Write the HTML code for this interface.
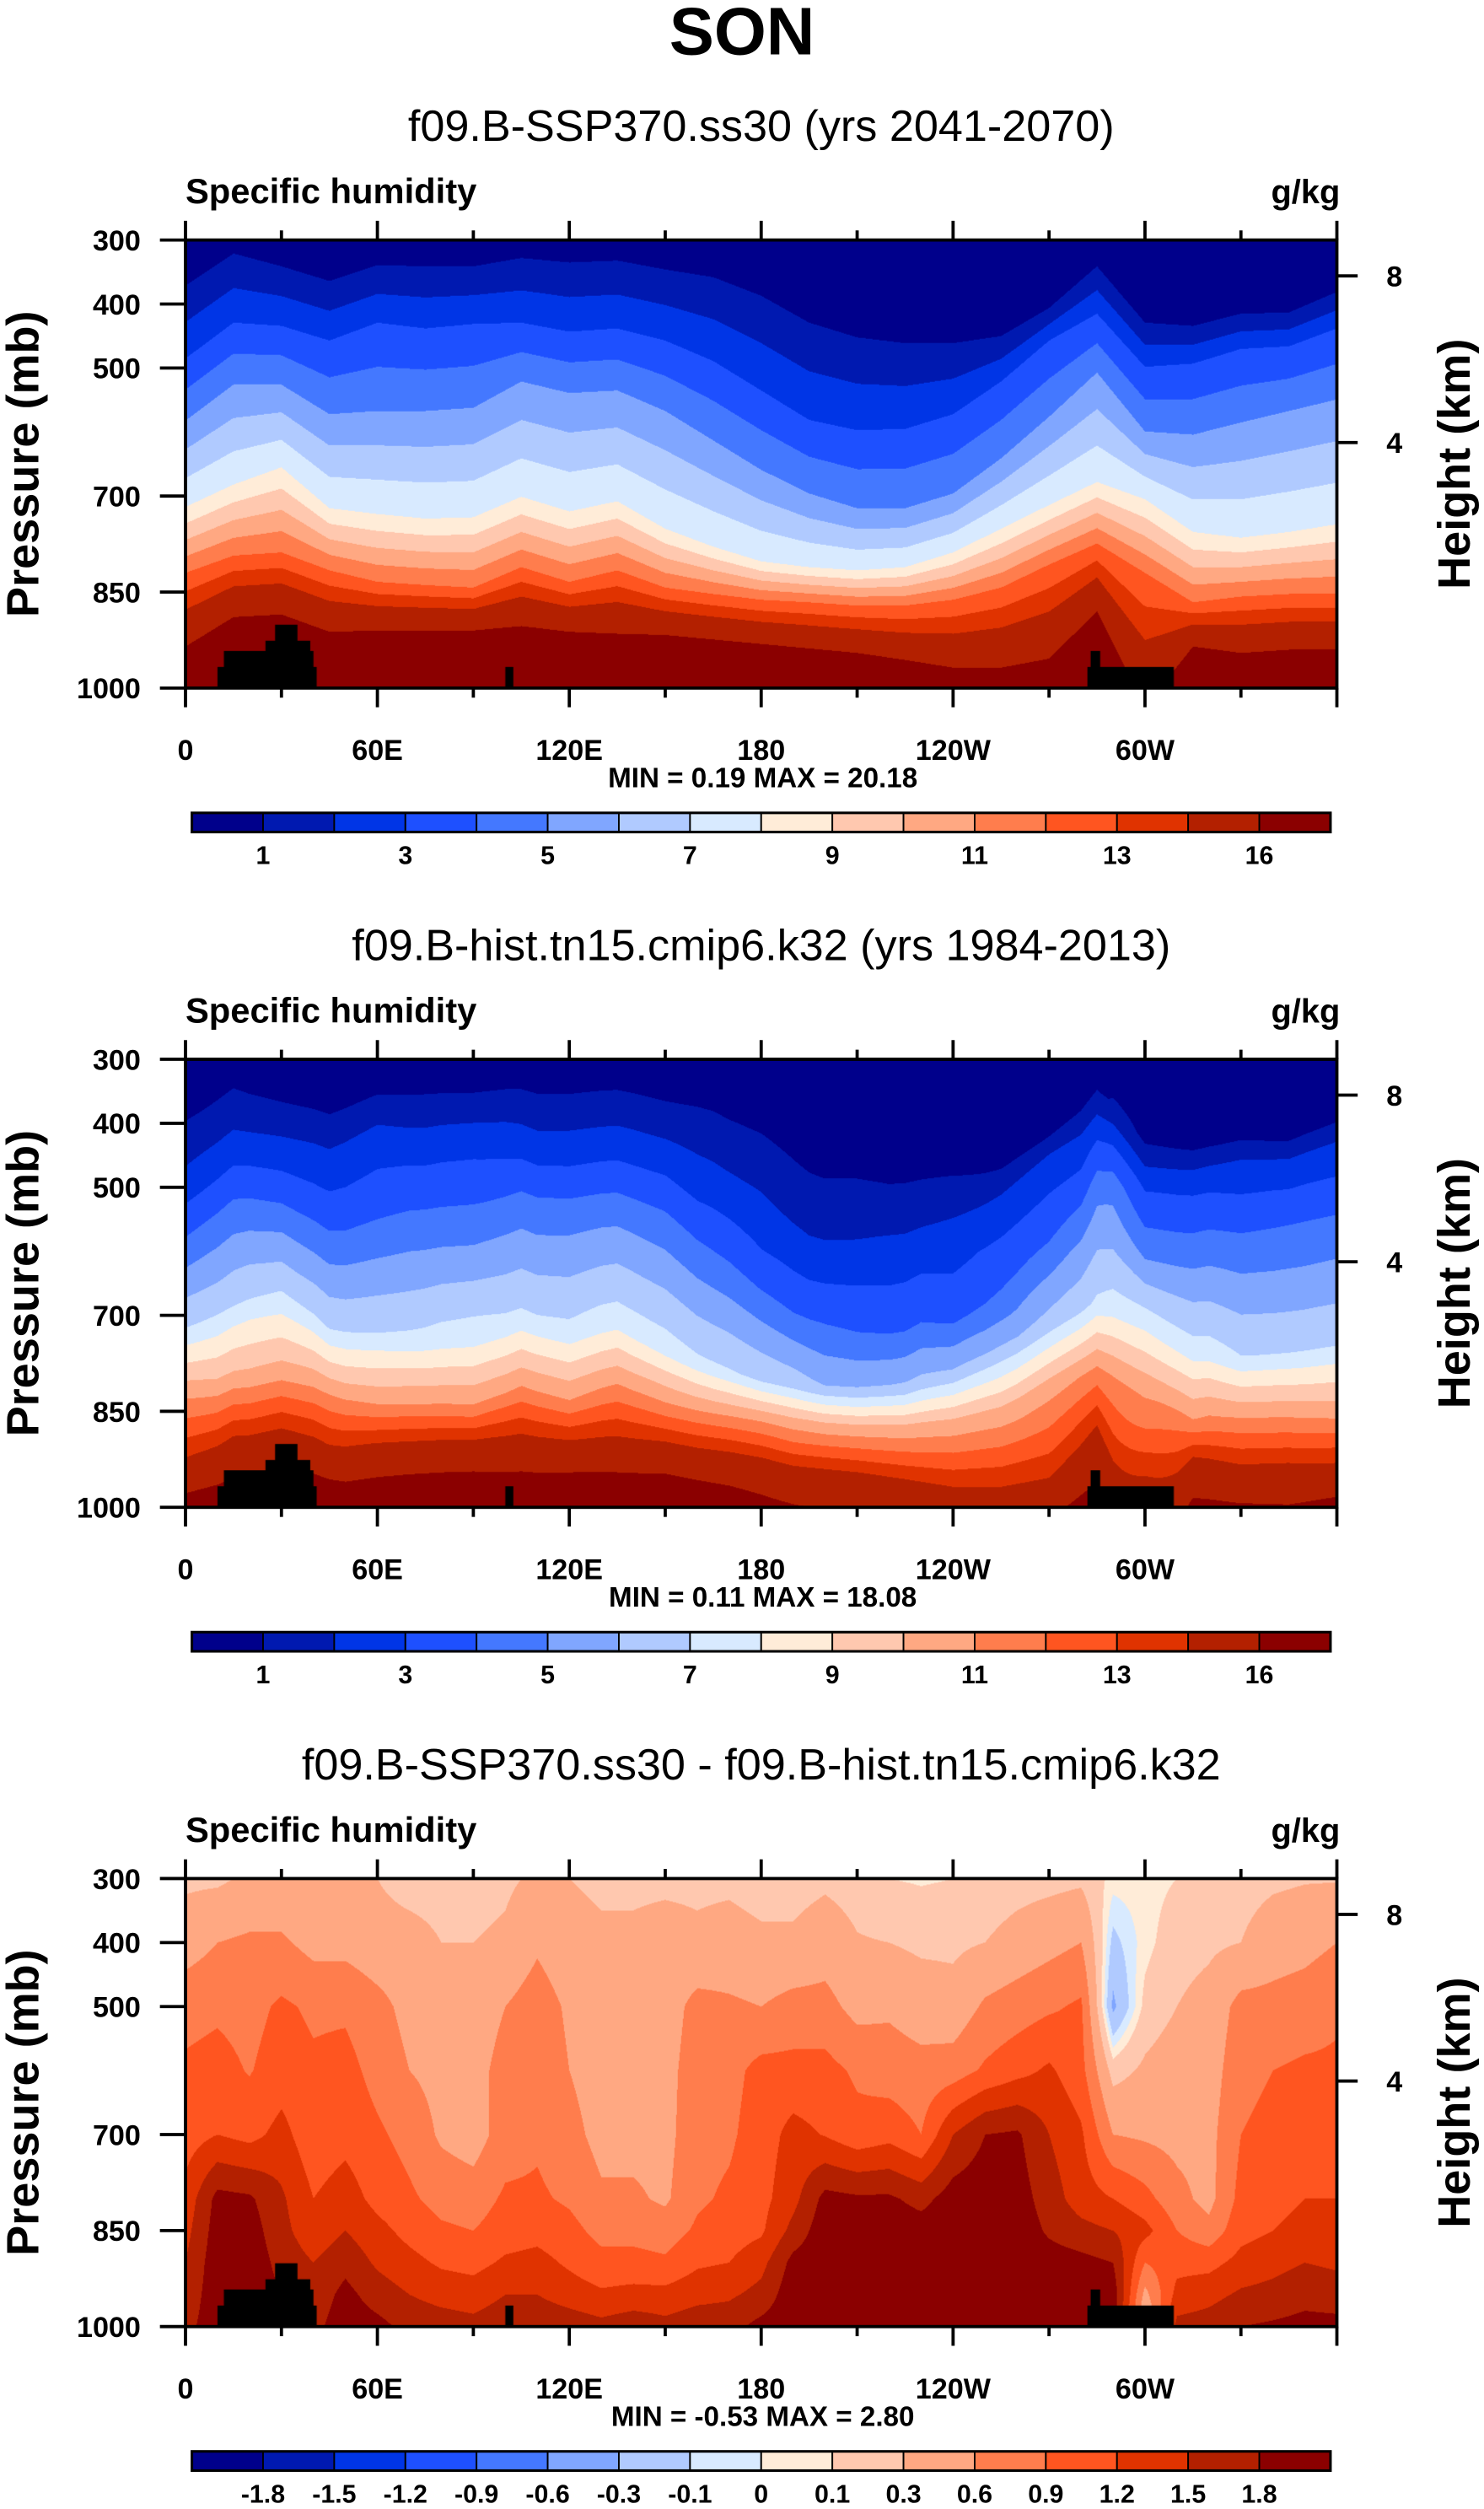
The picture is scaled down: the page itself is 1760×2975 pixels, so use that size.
<!DOCTYPE html>
<html><head><meta charset="utf-8"><style>
html,body{margin:0;padding:0;background:#fff;}
body{width:1760px;height:2975px;overflow:hidden;position:relative;}
#wrap{position:absolute;left:0;top:0;width:928px;height:1568px;transform:scale(1.89655,1.89732);transform-origin:0 0;}
canvas{position:absolute;width:720px;height:280px;}
svg{position:absolute;left:0;top:0;}
text{font-family:"Liberation Sans",Arial,sans-serif;}
</style></head><body>
<div id="wrap">
<canvas id="c1" width="1366" height="531" style="left:116px;top:150px"></canvas>
<canvas id="c2" width="1366" height="531" style="left:116px;top:662px"></canvas>
<canvas id="c3" width="1366" height="531" style="left:116px;top:1174px"></canvas>
<svg id="svg" width="928" height="1568" viewBox="0 0 928 1568">
<text x="464" y="34" text-anchor="middle" font-size="42" font-weight="bold">SON</text>
</svg>
</div>
<script>
// ---- Panel 1 (SSP370) isoline pressures (mb) per longitude, 0..360 step 15 ----
const lons15 = [0,15,30,45,60,75,90,105,120,135,150,165,180,195,210,225,240,255,270,285,300,315,330,345,360];
const iso1  = [371,321,341,364,339,341,341,328,335,332,346,358,387,429,452,461,461,450,406,341,429,434,415,413,381];
const iso3  = [485,429,434,457,429,438,431,429,443,438,457,489,535,581,597,595,572,521,457,415,498,493,470,466,438];
const iso5  = [582,526,526,572,567,567,562,521,539,535,567,613,659,696,719,719,696,641,576,507,599,604,585,567,549];
const iso8  = [717,682,655,719,728,735,733,701,724,708,751,779,802,811,816,811,788,751,714,678,705,756,765,756,744];
const iso12 = [820,793,788,816,834,839,843,811,834,816,843,853,862,866,871,871,862,843,807,774,820,866,857,853,853];
const iso16 = [935,889,885,912,910,910,910,903,912,915,917,924,931,938,945,956,968,968,954,880,1030,935,945,940,940];
const qTop  = [0.5,0.6,0.6,0.5,0.6,0.6,0.6,0.6,0.6,0.6,0.5,0.5,0.4,0.3,0.3,0.3,0.3,0.3,0.4,0.6,0.4,0.4,0.4,0.4,0.5];
const qBot  = [18.5,19.5,19.5,19.5,19.5,19.5,19.5,19.5,19.5,19.5,19.5,19,18.5,18,18,17.5,17,17,17.5,19,15,18,18,18,18.5];

// ---- Panel 3 difference (g/kg), columns every 10 deg, values at pLevels ----
const pLevels = [300,400,500,600,700,800,850,900,950,1000];
const d000=[0.25,0.45,0.8,0.95,1.05,1.3,1.4,1.5,1.6,1.7];
const d010=[0.25,0.6,0.85,1.0,1.2,1.9,1.95,2.0,2.0,2.0];
const d020=[0.35,0.65,0.8,0.88,1.1,1.85,1.95,2.0,2.0,2.0];
const d030=[0.35,0.65,0.95,1.05,1.3,1.55,1.6,1.7,1.8,1.8];
const d040=[0.3,0.5,0.85,0.95,1.0,1.2,1.3,1.5,1.6,1.7];
const d050=[0.3,0.5,0.85,1.0,1.1,1.35,1.5,1.7,1.9,2.0];
const d060=[0.3,0.4,0.7,0.8,0.95,1.1,1.3,1.45,1.65,1.9];
const d070=[0.2,0.4,0.5,0.6,0.8,0.95,1.1,1.3,1.5,1.7];
const d080=[0.2,0.3,0.45,0.5,0.55,0.8,0.95,1.15,1.4,1.65];
const d090=[0.2,0.3,0.45,0.5,0.45,0.75,0.9,1.1,1.35,1.6];
const d100=[0.25,0.35,0.6,0.7,0.75,0.95,1.05,1.25,1.5,1.7];
const d110=[0.35,0.55,0.75,0.8,0.85,0.95,1.1,1.3,1.5,1.75];
const d120=[0.3,0.4,0.55,0.6,0.7,0.85,1.0,1.15,1.35,1.7];
const d130=[0.25,0.35,0.45,0.45,0.5,0.65,0.8,1.0,1.25,1.6];
const d140=[0.25,0.35,0.45,0.45,0.5,0.65,0.8,1.0,1.3,1.7];
const d150=[0.25,0.4,0.45,0.5,0.5,0.55,0.75,0.95,1.3,1.6];
const d160=[0.25,0.35,0.7,0.75,0.8,0.85,0.95,1.15,1.4,1.7];
const d170=[0.25,0.4,0.65,0.8,0.85,0.95,1.05,1.2,1.45,1.7];
const d180=[0.2,0.35,0.6,1.0,1.05,1.1,1.15,1.4,1.6,1.9];
const d190=[0.2,0.35,0.7,1.0,1.3,1.4,1.6,1.9,2.0,2.0];
const d200=[0.25,0.45,0.7,1.0,1.18,1.9,2.0,2.0,2.0,2.0];
const d210=[0.2,0.32,0.5,0.85,1.0,1.85,2.0,2.0,2.0,2.0];
const d220=[0.1,0.3,0.55,0.75,1.1,1.85,2.0,2.0,2.0,2.0];
const d230=[0.08,0.25,0.45,0.7,0.9,1.7,1.95,2.0,2.0,2.0];
const d240=[0.1,0.25,0.4,0.75,1.5,1.95,2.0,2.0,2.0,2.0];
const d250=[0.15,0.3,0.65,0.95,1.8,2.0,2.0,2.0,2.0,2.0];
const d260=[0.2,0.4,0.75,1.1,1.85,1.95,2.0,2.0,2.0,2.0];
const d270=[0.22,0.5,0.85,1.25,1.5,1.65,1.75,1.95,2.0,2.0];
const d280=[0.25,0.6,0.95,1.0,1.25,1.35,1.6,1.9,2.0,2.0];
const d290=[0.05,-0.15,-0.35,0.2,0.6,1.2,1.5,1.8,2.0,2.0];
const d300=[0.05,0.05,0.15,0.35,0.55,1.0,1.3,0.9,0.5,0.2];
const d310=[0.1,0.2,0.3,0.45,0.5,0.7,0.9,1.1,1.3,1.6];
const d320=[0.12,0.25,0.4,0.45,0.5,0.5,0.7,1.1,1.4,1.65];
const d330=[0.2,0.3,0.7,0.8,0.9,1.0,1.1,1.3,1.55,1.8];
const d340=[0.25,0.45,0.7,0.9,1.0,1.1,1.2,1.4,1.6,1.85];
const d350=[0.28,0.5,0.75,0.95,1.05,1.2,1.3,1.5,1.7,1.9];
const d360=[0.28,0.6,0.85,0.95,1.05,1.2,1.35,1.45,1.65,1.9];
const diffColumns=[d000,d010,d020,d030,d040,d050,d060,d070,d080,d090,d100,d110,d120,d130,d140,d150,d160,d170,d180,d190,d200,d210,d220,d230,d240,d250,d260,d270,d280,d290,d300,d310,d320,d330,d340,d350,d360];

// ---- Topography (black blocks) ----
const topoLon0=[10,12,25,28,100,282,283];
const topoLon1=[41,40,39,35,102.5,309,286];
const topoP=[967,942,926,901,967,967,942];

// ---- Contour levels and tick labels ----
const qLevels=[1,2,3,4,5,6,7,8,9,10,11,12,13,14,16];
const qLabels=['1','','3','','5','','7','','9','','11','','13','','16'];
const dLevels=[-1.8,-1.5,-1.2,-0.9,-0.6,-0.3,-0.1,0,0.1,0.3,0.6,0.9,1.2,1.5,1.8];
const dLabels=['-1.8','-1.5','-1.2','-0.9','-0.6','-0.3','-0.1','0','0.1','0.3','0.6','0.9','1.2','1.5','1.8'];
const lonTicks=[0,60,120,180,240,300];
const lonTickLabels=['0','60E','120E','180','120W','60W'];
const pTicks=[300,400,500,700,850,1000];
const hTicks=[8,4];
const titles=['f09.B-SSP370.ss30 (yrs 2041-2070)','f09.B-hist.tn15.cmip6.k32 (yrs 1984-2013)','f09.B-SSP370.ss30 - f09.B-hist.tn15.cmip6.k32'];
const minMax=['MIN =  0.19  MAX =  20.18','MIN =  0.11  MAX =  18.08','MIN = -0.53  MAX =  2.80'];

const palette=['#00008b','#0019b0','#0035e6','#1e50ff','#4478ff','#80a6ff','#b0caff','#d8eaff','#ffecd8','#ffc8af','#ffa882','#ff7d4d','#ff5520','#e03300','#b32000','#8b0000'];
const palRGB=palette.map(h=>[parseInt(h.substr(1,2),16),parseInt(h.substr(3,2),16),parseInt(h.substr(5,2),16)]);

const W=1366,H=531;
function band(v,levels){let k=0;while(k<levels.length&&v>=levels[k])k++;return k;}
function interpLon(arr,lon,step){const f=lon/step;let i=Math.floor(f);if(i>=arr.length-1)i=arr.length-2;const t=f-i;return arr[i]*(1-t)+arr[i+1]*t;}
function q1Column(lon){
  const a=[[300,interpLon(qTop,lon,15)]];
  const isos=[[iso1,1],[iso3,3],[iso5,5],[iso8,8],[iso12,12],[iso16,16]];
  for(const [arr,v] of isos){let p=interpLon(arr,lon,15);if(p<=a[a.length-1][0])p=a[a.length-1][0]+0.5;a.push([p,v]);}
  if(a[a.length-1][0]<1000)a.push([1000,interpLon(qBot,lon,15)]);
  return a;
}
function evalCol(a,p){
  for(let i=0;i<a.length-1;i++){if(p<=a[i+1][0]){const t=(p-a[i][0])/(a[i+1][0]-a[i][0]);return a[i][1]+t*(a[i+1][1]-a[i][1]);}}
  const n=a.length;const t=(p-a[n-2][0])/(a[n-1][0]-a[n-2][0]);return a[n-2][1]+t*(a[n-1][1]-a[n-2][1]);
}
function diffAt(lon,p){
  const f=lon/10;let i=Math.floor(f);if(i>=diffColumns.length-1)i=diffColumns.length-2;const t=f-i;
  let j=0;while(j<pLevels.length-2&&p>pLevels[j+1])j++;
  const u=(p-pLevels[j])/(pLevels[j+1]-pLevels[j]);
  const A=diffColumns[i],B=diffColumns[i+1];
  const va=A[j]*(1-u)+A[j+1]*u, vb=B[j]*(1-u)+B[j+1]*u;
  return va*(1-t)+vb*t;
}
function xOfLon(lon){return lon/360*W;}
function yOfP(p){return (p-300)/700*H;}
function drawField(id,fn,levels){
  const cv=document.getElementById(id),ctx=cv.getContext('2d');
  const img=ctx.createImageData(W,H);
  for(let x=0;x<W;x++){
    const lon=(x+0.5)/W*360;
    const col=fn.prep(lon);
    for(let y=0;y<H;y++){
      const p=300+(y+0.5)/H*700;
      const v=fn.val(col,lon,p);
      const c=palRGB[band(v,levels)];
      const o=(y*W+x)*4;img.data[o]=c[0];img.data[o+1]=c[1];img.data[o+2]=c[2];img.data[o+3]=255;
    }
  }
  ctx.putImageData(img,0,0);
  ctx.fillStyle='#000';
  for(let i=0;i<topoP.length;i++){
    const x0=xOfLon(topoLon0[i]),x1=xOfLon(topoLon1[i]),y0=yOfP(topoP[i]);
    ctx.fillRect(x0,y0,x1-x0,H-y0);
  }
}
drawField('c1',{prep:q1Column,val:(c,lon,p)=>evalCol(c,p)},qLevels);
drawField('c2',{prep:q1Column,val:(c,lon,p)=>evalCol(c,p)-diffAt(lon,p)},qLevels);
drawField('c3',{prep:()=>null,val:(c,lon,p)=>diffAt(lon,p)},dLevels);

// ---- SVG axes ----
const svg=document.getElementById('svg');const NS='http://www.w3.org/2000/svg';
function mk(tag,attrs,txt){const e=document.createElementNS(NS,tag);for(const k in attrs)e.setAttribute(k,attrs[k]);if(txt!==undefined)e.textContent=txt;svg.appendChild(e);return e;}
const L=116,R=836,PW=720,PH=280;
function px(lon){return L+lon/360*PW;}
function py(top,p){return top+(p-300)/700*PH;}
function hToP(h){return 1013.25*Math.pow(1-2.25577e-5*h*1000,5.25588);}
for(let k=0;k<3;k++){
  const off=k*512,top=150+off,bot=top+PH;
  let e;
  e=mk('text',{x:476,y:88+off,'text-anchor':'middle','font-size':27.5},titles[k]);
  
  e=mk('text',{x:116,y:127+off,'font-size':22,'font-weight':'bold'},'Specific humidity');
  
  e=mk('text',{x:838,y:127+off,'text-anchor':'end','font-size':21,'font-weight':'bold'},'g/kg');
  
  e=mk('rect',{x:L,y:top,width:PW,height:PH,fill:'none',stroke:'#000','stroke-width':2});
  
  for(let lon=0;lon<=360;lon+=30){
    const major=(lon%60===0);const len=major?12:6;const x=px(lon);
    e=mk('line',{x1:x,y1:bot,x2:x,y2:bot+len,stroke:'#000','stroke-width':2});
    
    e=mk('line',{x1:x,y1:top,x2:x,y2:top-len,stroke:'#000','stroke-width':2});
    
  }
  for(let i=0;i<lonTicks.length;i++){
    e=mk('text',{x:px(lonTicks[i]),y:bot+45,'text-anchor':'middle','font-size':18,'font-weight':'bold'},lonTickLabels[i]);
    
  }
  for(const p of pTicks){
    const y=py(top,p);
    e=mk('line',{x1:L-16,y1:y,x2:L,y2:y,stroke:'#000','stroke-width':2});
    
    e=mk('text',{x:88,y:y+6.5,'text-anchor':'end','font-size':18,'font-weight':'bold'},String(p));
    
  }
  for(const h of hTicks){
    const y=py(top,hToP(h));
    e=mk('line',{x1:R,y1:y,x2:R+13,y2:y,stroke:'#000','stroke-width':2});
    
    e=mk('text',{x:872,y:y+6.5,'text-anchor':'middle','font-size':18,'font-weight':'bold'},String(h));
    
  }
  e=mk('text',{x:0,y:0,'text-anchor':'middle','font-size':28.5,'font-weight':'bold',transform:'translate(24,'+(top+140)+') rotate(-90)'},'Pressure (mb)');
  
  e=mk('text',{x:0,y:0,'text-anchor':'middle','font-size':28.5,'font-weight':'bold',transform:'translate(919,'+(top+140)+') rotate(-90)'},'Height (km)');
  
  e=mk('text',{x:477,y:bot+62,'text-anchor':'middle','font-size':17.5,'font-weight':'bold','xml:space':'preserve'},minMax[k]);
  
  // colorbar
  const cbY=508+off,cbX=120,bw=712/16;
  for(let b=0;b<16;b++){
    e=mk('rect',{x:cbX+b*bw,y:cbY,width:bw,height:12,fill:palette[b],stroke:'#000','stroke-width':1});
    
  }
  e=mk('rect',{x:cbX,y:cbY,width:712,height:12,fill:'none',stroke:'#000','stroke-width':1.6});
  
  const labs=(k===2)?dLabels:qLabels;
  for(let i=0;i<labs.length;i++){
    if(!labs[i])continue;
    e=mk('text',{x:cbX+(i+1)*bw,y:cbY+32,'text-anchor':'middle','font-size':16,'font-weight':'bold'},labs[i]);
    
  }
}
</script>
</body></html>
